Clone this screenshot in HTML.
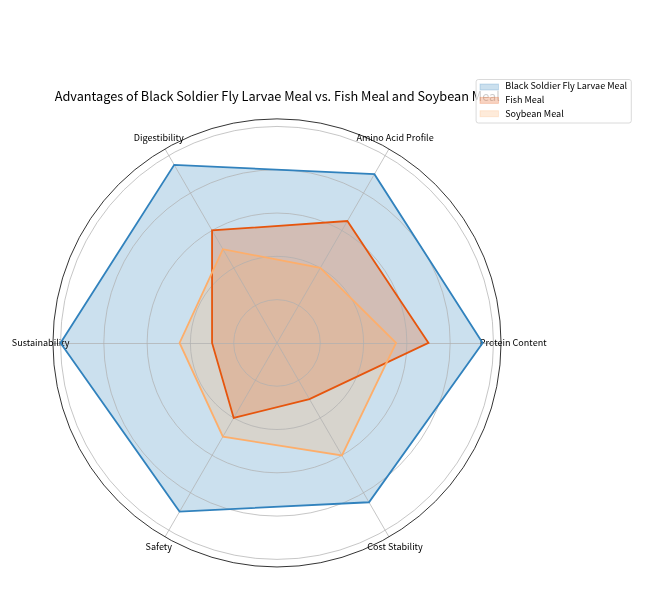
<!DOCTYPE html>
<html lang="en"><head><meta charset="utf-8"><title>Advantages of Black Soldier Fly Larvae Meal vs. Fish Meal and Soybean Meal</title>
<style>
html,body{margin:0;padding:0;background:#fff;}
body{width:648px;height:606px;overflow:hidden;}
svg{display:block;}
text{font-family:"Noto Sans CJK SC", "Noto Sans CJK JP", "Liberation Sans", sans-serif;fill:#000;}
.tick{font-size:9.06px;text-anchor:middle;}
.leg{font-size:9.06px;}
.title{font-size:12.72px;text-anchor:middle;}
</style></head><body>
<svg width="648" height="606" viewBox="0 0 648 606">
<rect width="648" height="606" fill="#ffffff"/>
<g class="fills">
<polygon points="482.65,342.92 374.41,174.20 174.18,164.82 60.53,342.92 179.59,511.64 369.00,502.27" fill="#3182bd" fill-opacity="0.25"/>
<polygon points="428.53,342.92 347.35,221.06 212.06,230.44 212.06,342.92 233.71,417.91 309.47,399.16" fill="#e6550d" fill-opacity="0.25"/>
<polygon points="396.06,342.92 320.29,267.93 222.88,249.18 179.59,342.92 222.88,436.66 341.94,455.40" fill="#fdae6b" fill-opacity="0.25"/>
</g>
<g class="grid" fill="none" stroke="#b0b0b0" stroke-width="0.72">
<line x1="277.0" y1="343.5" x2="501.05" y2="343.5"/>
<line x1="277.0" y1="342.92" x2="389.03" y2="148.89"/>
<line x1="277.0" y1="342.92" x2="164.98" y2="148.89"/>
<line x1="277.0" y1="343.5" x2="52.95" y2="343.5"/>
<line x1="277.0" y1="342.92" x2="164.97" y2="536.95"/>
<line x1="277.0" y1="342.92" x2="389.03" y2="536.95"/>
</g>
<g class="ticklabels">
<text class="tick" x="513.20" y="345.85">Protein Content</text>
<text class="tick" x="395.05" y="141.21">Amino Acid Profile</text>
<text class="tick" x="158.75" y="141.21">Digestibility</text>
<text class="tick" x="40.60" y="345.85">Sustainability</text>
<text class="tick" x="158.75" y="550.49">Safety</text>
<text class="tick" x="395.05" y="550.49">Cost Stability</text>
</g>
<g class="rings" fill="none" stroke="#b0b0b0" stroke-width="0.72">
<circle cx="277.0" cy="342.92" r="43.29"/>
<circle cx="277.0" cy="342.92" r="86.59"/>
<circle cx="277.0" cy="342.92" r="129.88"/>
<circle cx="277.0" cy="342.92" r="173.18"/>
<circle cx="277.0" cy="342.92" r="216.47"/>
</g>
<g class="lines" fill="none" stroke-width="1.81" stroke-linejoin="miter">
<polygon points="482.65,342.92 374.41,174.20 174.18,164.82 60.53,342.92 179.59,511.64 369.00,502.27" stroke="#3182bd"/>
<polygon points="428.53,342.92 347.35,221.06 212.06,230.44 212.06,342.92 233.71,417.91 309.47,399.16" stroke="#e6550d"/>
<polygon points="396.06,342.92 320.29,267.93 222.88,249.18 179.59,342.92 222.88,436.66 341.94,455.40" stroke="#fdae6b"/>
</g>
<circle cx="277.0" cy="342.92" r="224.05" fill="none" stroke="#000" stroke-width="0.8"/>
<text class="title" x="277.25" y="100.9">Advantages of Black Soldier Fly Larvae Meal vs. Fish Meal and Soybean Meal</text>
<g class="legend">
<rect x="476.1" y="79.5" width="155.2" height="43.5" rx="2.3" ry="2.3" fill="#fff" fill-opacity="0.8" stroke="#cccccc" stroke-opacity="0.8" stroke-width="0.9"/>
<rect x="480.0" y="84.00" width="18.45" height="6.0" fill="#3182bd" fill-opacity="0.25" stroke="#3182bd" stroke-opacity="0.25" stroke-width="0.9"/>
<text class="leg" x="505.2" y="89.4">Black Soldier Fly Larvae Meal</text>
<rect x="480.0" y="97.37" width="18.45" height="6.0" fill="#e6550d" fill-opacity="0.25" stroke="#e6550d" stroke-opacity="0.25" stroke-width="0.9"/>
<text class="leg" x="505.2" y="102.8">Fish Meal</text>
<rect x="480.0" y="110.74" width="18.45" height="6.0" fill="#fdae6b" fill-opacity="0.25" stroke="#fdae6b" stroke-opacity="0.25" stroke-width="0.9"/>
<text class="leg" x="505.2" y="116.5">Soybean Meal</text>
</g>
</svg></body></html>
